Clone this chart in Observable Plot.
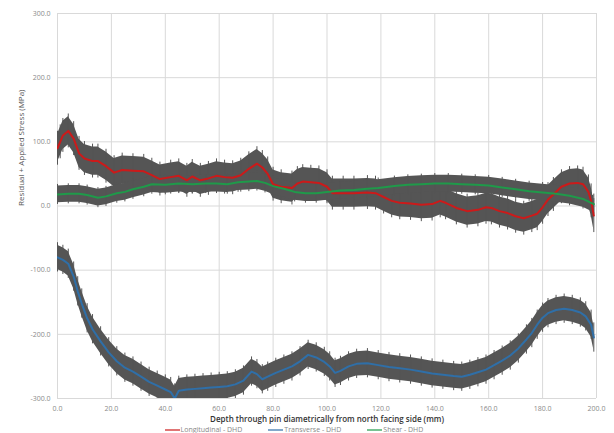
<!DOCTYPE html>
<html><head><meta charset="utf-8">
<script src="https://cdn.jsdelivr.net/npm/d3@7"></script>
<script src="https://cdn.jsdelivr.net/npm/@observablehq/plot@0.6"></script>
<style>
body{margin:0;background:#fff;font-family:"Open Sans",sans-serif;}
#wrap{position:relative;width:614px;height:433px;}
#legend{position:absolute;left:0;top:426px;width:614px;display:flex;justify-content:center;gap:26px;font-size:7px;line-height:7px;color:#888;height:7px;align-items:center;margin-left:-13px;}
#legend span{display:flex;align-items:center;}
#legend svg{margin-right:1px;}
</style></head><body>
<div id="wrap"><div id="chart"></div><div id="legend"></div></div>
<script>
const xTicks = [0,20,40,60,80,100,120,140,160,180,200];
const yTicks = [-300,-200,-100,0,100,200,300];
const seriesNames = ["Longitudinal - DHD","Transverse - DHD","Shear - DHD"];
const seriesColors = ["#cc1a1a","#2f6fa8","#1f9a4a"];
const seriesErr = [22,19,13];

const longX = [0,1,2,4,6,8,10,13,15,18,21,24,28,32,35,38,42,45,48,50,53,56,59,62,65,68,71,74,76,78,80,83,87,89,91,94,97,100,102,106,110,115,118,121,124,127,131,135,139,142,144,148,152,156,159,161,164,167,170,173,176,178,180,182,184,187,190,193,195,197,198,199];
const longY = [90,100,110,117,105,82,74,70,70,62,52,56,55,54,48,42,45,47,40,46,40,43,47,45,44,48,58,66,60,50,34,30,28,35,38,37,36,30,20,20,20,21,20,14,8,5,4,2,3,8,5,-3,-8,-6,-2,-3,-8,-11,-16,-19,-15,-12,-2,10,18,30,35,36,34,22,8,-15];

const transX = [0,2,4,6,7.5,9,11,13,16,19,22,25,28,31,34,37,40,42,43.5,45,48,51,54,57,60,63,66,69,72,74,76,78,81,84,87,90,93,96,99,101,103,105,108,111,115,119,123,127,131,135,139,143,147,150,153,156,159,162,165,168,171,174,176,178,180,182,185,188,191,194,196,198,199];
const transY = [-80,-84,-90,-110,-133,-152,-175,-192,-211,-228,-242,-252,-258,-266,-274,-280,-286,-290,-300,-288,-286,-285,-284,-283,-282,-281,-278,-272,-258,-262,-270,-266,-260,-255,-250,-242,-232,-236,-243,-250,-260,-257,-250,-246,-245,-248,-251,-253,-255,-258,-261,-263,-265,-266,-263,-259,-255,-248,-241,-233,-222,-208,-198,-185,-174,-167,-162,-160,-162,-166,-172,-185,-205];

const shearX = [0,4,8,11,15,18,22,25,28,32,35,40,45,50,55,59,63,67,71,74,77,80,84,88,92,96,100,105,110,115,119,125,130,135,140,145,150,155,160,165,170,175,180,185,190,195,198,199];
const shearY = [18,19,19,17,13,15,20,22,26,30,34,33,35,34,35,35,34,37,38,39,36,31,27,22,20,20,22,24,25,27,28,31,33,34,35,35,34,33,32,29,26,23,21,19,16,11,5,3];

const xs = [longX, transX, shearX];
const ys = [longY, transY, shearY];
const data = [];
seriesNames.forEach((s,i)=>{
  xs[i].forEach((x,j)=>data.push({series:s, x, y: ys[i][j], err: seriesErr[i], idx:i}));
});
const bySeries = seriesNames.map(s=>data.filter(d=>d.series===s));

const marks = [
  Plot.gridX(xTicks,{stroke:"#d9d9d9",strokeOpacity:1}),
  Plot.gridY(yTicks,{stroke:"#d9d9d9",strokeOpacity:1}),
  Plot.axisX(xTicks,{tickSize:0,tickPadding:8,tickFormat:d=>d.toFixed(1),label:null,fill:"#8a8a8a"}),
  Plot.axisY(yTicks,{tickSize:0,tickPadding:7,tickFormat:d=>d.toFixed(1),label:null,fill:"#8a8a8a"}),
  Plot.text(["Depth through pin diametrically from north facing side (mm)"],{frameAnchor:"bottom",dy:23,fontSize:8,fontWeight:600,fill:"#333"}),
  Plot.text(["Residual + Applied Stress (MPa)"],{frameAnchor:"left",rotate:-90,dx:-36,fontSize:8,fill:"#555"})
];
bySeries.forEach((arr,i)=>{
  marks.push(Plot.areaY(arr,{x:"x",y1:d=>d.y-d.err,y2:d=>d.y+d.err,fill:"#555",clip:true}));
  marks.push(Plot.ruleX(arr,{x:"x",y1:d=>d.y-d.err*1.2,y2:d=>d.y+d.err*1.2,stroke:"#555",strokeWidth:1,clip:true}));
});
bySeries.forEach((arr,i)=>{
  marks.push(Plot.line(arr,{x:"x",y:"y",stroke:seriesColors[i],strokeWidth:2,clip:true}));
});

const chart = Plot.plot({
  width:614,height:433,
  marginTop:13,marginBottom:35,marginLeft:57,marginRight:18,
  style:{fontFamily:"Open Sans, sans-serif",fontSize:"7px",background:"#fff"},
  x:{domain:[0,200]},
  y:{domain:[-300,300]},
  marks
});
chart.style.display="block";
document.getElementById("chart").appendChild(chart);

const lg = document.getElementById("legend");
seriesNames.forEach((s,i)=>{
  const sp=document.createElement("span");
  sp.innerHTML=`<svg width="15" height="4"><line x1="0" x2="15" y1="2" y2="2" stroke="${seriesColors[i]}" stroke-width="1.2"/></svg>${s}`;
  lg.appendChild(sp);
});
</script>
</body></html>
